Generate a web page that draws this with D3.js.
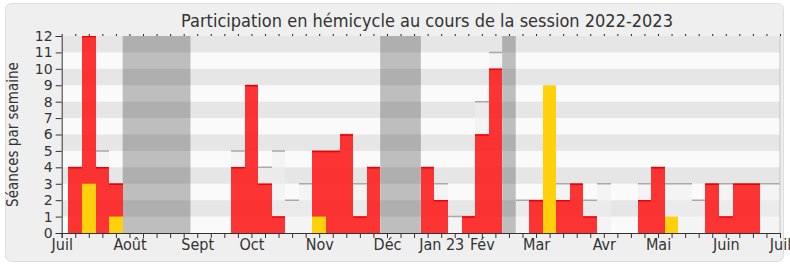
<!DOCTYPE html>
<html><head><meta charset="utf-8">
<script src="https://cdn.jsdelivr.net/npm/d3@7"></script>
<style>html,body{margin:0;padding:0;background:#fff;}svg{display:block;}</style>
</head><body>
<svg id="chart" width="790" height="267"></svg>
<script>
// ---- data (week index 0..53, season July 2022 -> July 2023) ----
const weekIndex = d3.range(54);
const totalSeances = [0,4,12,5,3,0,0,0,0,0,0,0,0,5,9,4,5,2,3,5,5,6,3,4,0,0,0,4,3,1,1,8,11,0,2,2,2,3,3,2,3,0,0,3,4,3,3,2,3,3,3,3,3,3];
const presences    = [0,4,12,4,3,0,0,0,0,0,0,0,0,4,9,3,1,0,0,5,5,6,1,4,0,0,0,4,2,0,1,6,10,0,0,2,2,2,3,1,0,0,0,2,4,0,0,0,3,1,3,3,0,0];
const interventions= [0,0,3,0,1,0,0,0,0,0,0,0,0,0,0,0,0,0,0,1,0,0,0,0,0,0,0,0,0,0,0,0,0,0,0,0,9,0,0,0,0,0,0,0,0,1,0,0,0,0,0,0,0,0];
const vacationWeeks = [5,6,7,8,9,24,25,26,33];
const monthLabels = ["Juil","Août","Sept","Oct","Nov","Déc","Jan 23","Fév","Mar","Avr","Mai","Juin","Juil"];
const monthWeeks  = [0,5,10,14,19,24,28,31,35,40,44,49,53];
const yTicks = d3.range(0,13);
const titleText = "Participation en hémicycle au cours de la session 2022-2023";
const yAxisTitle = "Séances par semaine";

// ---- layout ----
const pL = 61.7, pR = 780, pT = 36, pB = 233;
const svg = d3.select("#chart");
const font = "'DejaVu Sans Condensed', 'DejaVu Sans', Verdana, sans-serif";
const fontWide = "'DejaVu Sans', Verdana, sans-serif";

svg.append("rect").attr("x",5.5).attr("y",3.5).attr("width",778).attr("height",258)
  .attr("rx",6).attr("fill","#efefef").attr("stroke","#dedede");

const x = d3.scaleLinear().domain([0,53]).range([pL,pR]);
const y = d3.scaleLinear().domain([0,12]).range([pB,pT]);

svg.append("defs").append("clipPath").attr("id","plotclip")
  .append("rect").attr("x",pL).attr("y",pT).attr("width",pR-pL).attr("height",pB-pT);

const plot = svg.append("g").attr("clip-path","url(#plotclip)");
plot.append("rect").attr("x",pL).attr("y",pT).attr("width",pR-pL).attr("height",pB-pT).attr("fill","#fafafa");

// vacations: merge consecutive weeks into runs
const runs = [];
vacationWeeks.forEach(w=>{
  const last = runs[runs.length-1];
  if (last && last[1]===w-1) last[1]=w; else runs.push([w,w]);
});
plot.selectAll("rect.vac").data(runs).join("rect").attr("class","vac")
  .attr("x",d=>x(d[0]-0.5)).attr("width",d=>x(d[1]+0.5)-x(d[0]-0.5))
  .attr("y",pT).attr("height",pB-pT).attr("fill","#bebebe");

// stripes
plot.selectAll("rect.stripe").data(yTicks.filter(v=>v%2===1)).join("rect").attr("class","stripe")
  .attr("x",pL).attr("width",pR-pL)
  .attr("y",d=>y(d+1)).attr("height",d=>y(d)-y(d+1)).attr("fill","rgba(0,0,0,0.08)");

// total seances
const wk = weekIndex.map(i=>({i,t:totalSeances[i],p:presences[i],v:interventions[i]}));
const x0 = d=>Math.round(x(d.i-0.5));
const bw = d=>Math.round(x(d.i+0.5))-Math.round(x(d.i-0.5));
plot.selectAll("rect.tot").data(wk.filter(d=>d.t>0)).join("rect").attr("class","tot")
  .attr("x",x0).attr("width",bw)
  .attr("y",d=>y(d.t)).attr("height",d=>y(0)-y(d.t)).attr("fill","rgba(238,238,238,0.55)");
plot.selectAll("line.tot").data(wk.filter(d=>d.t>0)).join("line").attr("class","tot")
  .attr("x1",x0).attr("x2",d=>x0(d)+bw(d))
  .attr("y1",d=>y(d.t)).attr("y2",d=>y(d.t)).attr("stroke","#a9a9a9").attr("stroke-width",1.5);

// presences
plot.selectAll("rect.pres").data(wk.filter(d=>d.p>0)).join("rect").attr("class","pres")
  .attr("x",x0).attr("width",bw)
  .attr("y",d=>y(d.p)).attr("height",d=>y(0)-y(d.p)).attr("fill","rgba(255,0,0,0.79)");
plot.selectAll("line.pres").data(wk.filter(d=>d.p>0)).join("line").attr("class","pres")
  .attr("x1",x0).attr("x2",d=>x0(d)+bw(d))
  .attr("y1",d=>y(d.p)+0.5).attr("y2",d=>y(d.p)+0.5).attr("stroke","#f00000").attr("stroke-width",1.5);

// interventions
plot.selectAll("rect.int").data(wk.filter(d=>d.v>0)).join("rect").attr("class","int")
  .attr("x",x0).attr("width",bw)
  .attr("y",d=>y(d.v)).attr("height",d=>y(0)-y(d.v)).attr("fill","#ffd10c");

// right border
svg.append("line").attr("x1",pR).attr("x2",pR).attr("y1",pT).attr("y2",pB).attr("stroke","#c4c4c4");

// axes
const yAxis = svg.append("g").attr("transform",`translate(${pL},0)`)
  .call(d3.axisLeft(y).tickValues(yTicks).tickFormat(d3.format("d")).tickSize(6).tickPadding(3));
const xAxis = svg.append("g").attr("transform",`translate(0,${pB})`)
  .call(d3.axisBottom(x).tickValues(weekIndex).tickSize(5).tickFormat(""));
const xLab = svg.append("g").attr("transform",`translate(0,${pB})`)
  .call(d3.axisBottom(x).tickValues(monthWeeks).tickSize(0).tickPadding(6)
    .tickFormat((d,i)=>monthLabels[i]));
xLab.select(".domain").remove();
const topTicks = svg.append("g").attr("transform",`translate(0,${pT})`)
  .call(d3.axisTop(x).tickValues(weekIndex).tickSize(2).tickFormat(""));
topTicks.select(".domain").remove();

[yAxis,xAxis,xLab].forEach(g=>{
  g.selectAll("text").attr("fill","#333").style("font-family",font).style("font-size","16px");
  g.select(".domain").attr("stroke","#333");
  g.selectAll(".tick line").attr("stroke","#333");
});
yAxis.selectAll("text").style("font-family",fontWide).style("font-size","14px");
topTicks.selectAll(".tick line").attr("stroke","#222");

svg.append("text").attr("x",427).attr("y",26.5).attr("text-anchor","middle")
  .attr("fill","#333").style("font-family",font).style("font-size","18px").text(titleText);
svg.append("text").attr("transform",`translate(18,${(pT+pB)/2}) rotate(-90)`)
  .attr("text-anchor","middle").attr("fill","#333").style("font-family",font).style("font-size","15px").text(yAxisTitle);
</script>
</body></html>
